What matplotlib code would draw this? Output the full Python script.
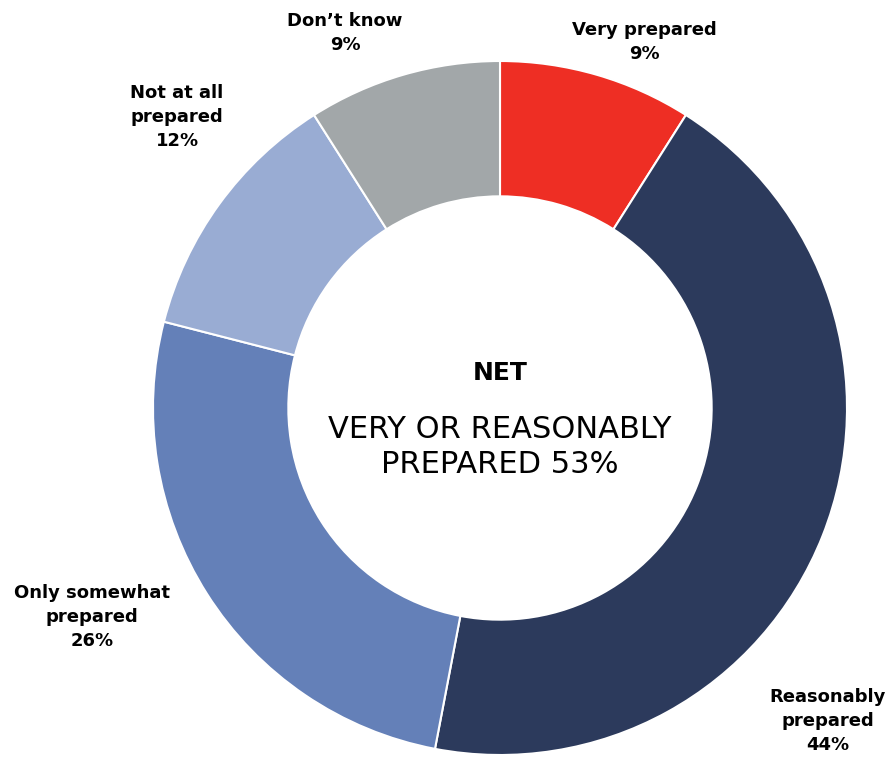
import matplotlib.pyplot as plt

# survey answers, clockwise from 12 o'clock
categories = ["Very prepared", "Reasonably\nprepared", "Only somewhat\nprepared",
              "Not at all\nprepared", "Don\u2019t know"]
values = [9, 44, 26, 12, 9]
colors = ["#EE2E24", "#2C3A5C", "#6480B8", "#99ACD3", "#A2A7A9"]

net_title = "NET"
net_text = "VERY OR REASONABLY\nPREPARED 53%"

# label anchors in pixel coords (x, y from top)
label_pos = [(644, 42), (828, 721), (92, 617), (177, 117), (345, 33)]

W, H = 892, 759
cx, cy, r = 500, 408, 347

fig = plt.figure(figsize=(W / 100, H / 100), dpi=100)
ax = fig.add_axes([0, 0, 1, 1])

ax.pie(values, colors=colors, startangle=90, counterclock=False,
       center=(cx, H - cy), radius=r,
       wedgeprops=dict(width=r * 0.39, edgecolor="white", linewidth=1.5))

ax.set_xlim(0, W)
ax.set_ylim(0, H)
ax.set_aspect("equal")
ax.axis("off")

for cat, v, (x, y) in zip(categories, values, label_pos):
    ax.text(x, H - y, f"{cat}\n{v}%", ha="center", va="center",
            fontsize=13, fontweight="bold", color="black", linespacing=1.4)

ax.text(cx, H - 373, net_title, ha="center", va="center",
        fontsize=18, fontweight="bold", color="black")
ax.text(cx, H - 447, net_text, ha="center", va="center",
        fontsize=22, color="black", linespacing=1.25)

fig.savefig("out.png", dpi=100)
